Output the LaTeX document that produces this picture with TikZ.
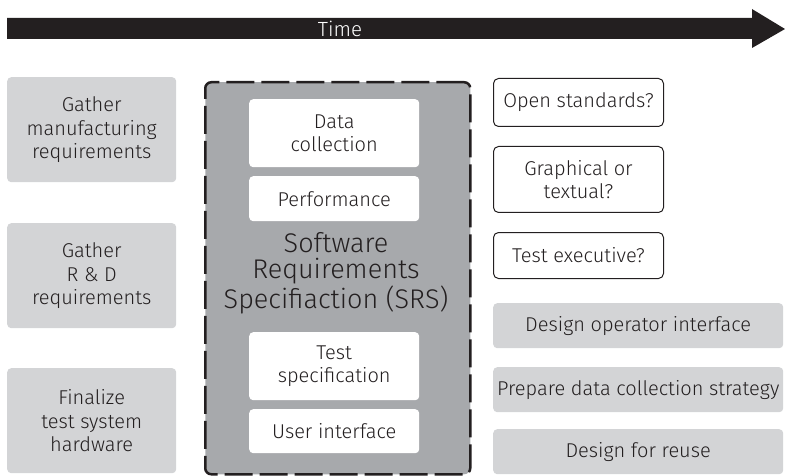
\documentclass[tikz,border=0pt]{standalone}
\usepackage{fontspec}
\setmainfont{Fira Sans}[UprightFont=* Light]
\definecolor{taskgray}{HTML}{D3D4D6}
\definecolor{srsgray}{HTML}{A7A9AC}
\definecolor{ink}{HTML}{231F20}
\begin{document}
\begin{tikzpicture}[x=1pt,y=-1pt,
    every node/.style={font=\fontsize{20}{23.5}\selectfont, text=ink, align=center, inner sep=0pt, anchor=north west},
    task/.style={fill=taskgray, rounded corners=4pt},
    item/.style={fill=white, rounded corners=4pt},
    question/.style={draw=ink, line width=1pt, rounded corners=5pt, fill=white}]
    \useasboundingbox (0,0) rectangle (785,476);

    % time line
    \fill[ink] (7,18) -- (752,18) -- (752,9) -- (785,29) -- (752,48) -- (752,39) -- (7,39) -- cycle;
    \node[anchor=center, text=white, font=\fontsize{20.5}{23}\selectfont] (time) at (340,28.5) {Time};

    % before the SRS
    \node[task, minimum width=169, minimum height=105] (gathermfg) at (7,77) {Gather\\manufacturing\\requirements};
    \node[task, minimum width=169, minimum height=105] (gatherrd) at (7,223) {Gather\\R \& D\\requirements};
    \node[task, minimum width=169, minimum height=105] (finalize) at (7,368) {Finalize\\test system\\hardware};

    % the SRS
    \node[fill=srsgray, draw=ink, line width=2.5pt, dash pattern=on 28pt off 7pt, rounded corners=6pt,
        minimum width=265, minimum height=392] (srs) at (204,81) {};
    \node[item, minimum width=170, minimum height=68] (datacoll) at (249,99) {Data\\collection};
    \node[item, minimum width=170, minimum height=45] (perf) at (249,176) {Performance};
    \node[anchor=center, font=\fontsize{27}{26.5}\selectfont] (srstitle) at (336,273) {Software\\Requirements\\Specifiaction (SRS)};
    \node[item, minimum width=170, minimum height=68] (testspec) at (249,332) {Test\\specification};
    \node[item, minimum width=170, minimum height=44] (userif) at (249,409) {User interface};

    % questions
    \node[question, minimum width=170, minimum height=48] (openstd) at (493,78) {Open standards?};
    \node[question, minimum width=170, minimum height=66] (graphical) at (493,146) {Graphical or\\textual?};
    \node[question, minimum width=170, minimum height=46] (testexec) at (493,232) {Test executive?};

    % after the SRS
    \node[task, minimum width=290, minimum height=45] (opif) at (493,303) {Design operator interface};
    \node[task, minimum width=290, minimum height=45] (datastrat) at (493,367) {Prepare data collection strategy};
    \node[task, minimum width=290, minimum height=45] (reuse) at (493,429) {Design for reuse};
\end{tikzpicture}
\end{document}
